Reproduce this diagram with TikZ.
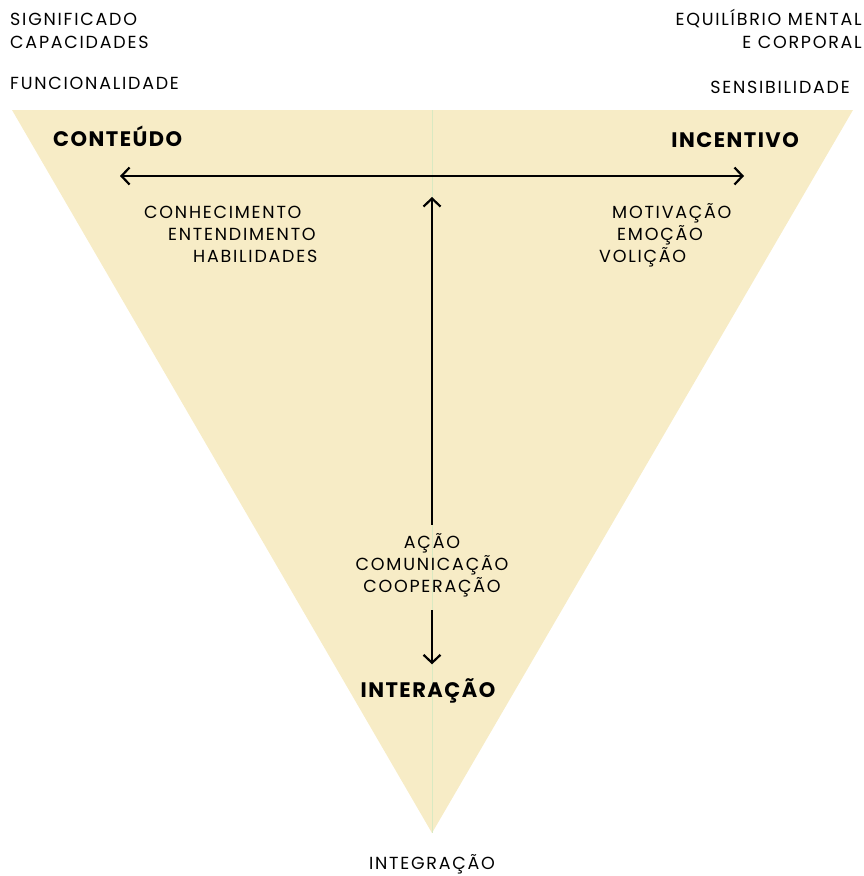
\documentclass[tikz,border=0pt]{standalone}
\usepackage{fontspec}
\setmainfont{Poppins}[LetterSpace=10]
\usetikzlibrary{arrows.meta}
\definecolor{sand}{HTML}{F7ECC6}
\definecolor{palegreen}{HTML}{D9E9C2}
\tikzstyle{lbl} = [inner sep=0pt, text height=12pt, text depth=0pt, font=\fontsize{17.5}{21}\selectfont]
\tikzstyle{head} = [lbl, text height=15pt, font=\fontsize{21}{25}\selectfont\bfseries\addfontfeature{LetterSpace=7}]
\tikzstyle{arrow} = [line width=2.2pt, -{Straight Barb[length=8pt,width=17pt]}]

\begin{document}
\begin{tikzpicture}[x=1pt,y=-1pt]
\useasboundingbox (0,0) rectangle (864,876);
\coordinate (tl) at (12,110);
\coordinate (tr) at (853,110);
\coordinate (apex) at (432,833);
\coordinate (top) at (432,110);
\fill[sand] (tl)--(tr)--(apex)--cycle;
\draw[palegreen] (top)--(apex);
% corners outside
\draw (10,19) node (signif) [lbl, anchor=west] {SIGNIFICADO};
\draw (10,42) node (capac) [lbl, anchor=west] {CAPACIDADES};
\draw (10,83) node (funcio) [lbl, anchor=west] {FUNCIONALIDADE};
\draw (862,19) node (equil) [lbl, anchor=east] {EQUILÍBRIO MENTAL};
\draw (862,42) node (corp) [lbl, anchor=east] {E CORPORAL};
\draw (850,87) node (sensib) [lbl, anchor=east] {SENSIBILIDADE};
\draw (432,863) node (integr) [lbl] {INTEGRAÇÃO};
% headings
\draw (53,139) node (conteudo) [head, anchor=west] {CONTEÚDO};
\draw (799,140) node (incentivo) [head, anchor=east] {INCENTIVO};
\draw (428,690) node (interacao) [head] {INTERAÇÃO};
% lists
\draw (144,212) node (conhec) [lbl, anchor=west] {CONHECIMENTO};
\draw (168,234) node (entend) [lbl, anchor=west] {ENTENDIMENTO};
\draw (193,256) node (habil) [lbl, anchor=west] {HABILIDADES};
\draw (612,212) node (motiv) [lbl, anchor=west] {MOTIVAÇÃO};
\draw (617,234) node (emoc) [lbl, anchor=west] {EMOÇÃO};
\draw (599,256) node (volic) [lbl, anchor=west] {VOLIÇÃO};
\draw (432,542) node (acao) [lbl] {AÇÃO};
\draw (432,564) node (comun) [lbl] {COMUNICAÇÃO};
\draw (432,586) node (coop) [lbl] {COOPERAÇÃO};
% arrows
\coordinate (hleft) at (120,176);
\coordinate (hright) at (744,176);
\coordinate (vtop) at (432,197);
\draw[arrow, {Straight Barb[length=8pt,width=17pt]}-{Straight Barb[length=8pt,width=17pt]}] (hleft)--(hright);
\draw[arrow, shorten <=11pt] (acao.north)--(vtop);
\draw[arrow, shorten <=18pt, shorten >=18pt] (coop.south -| apex)--(interacao.north -| apex);
\end{tikzpicture}
\end{document}
